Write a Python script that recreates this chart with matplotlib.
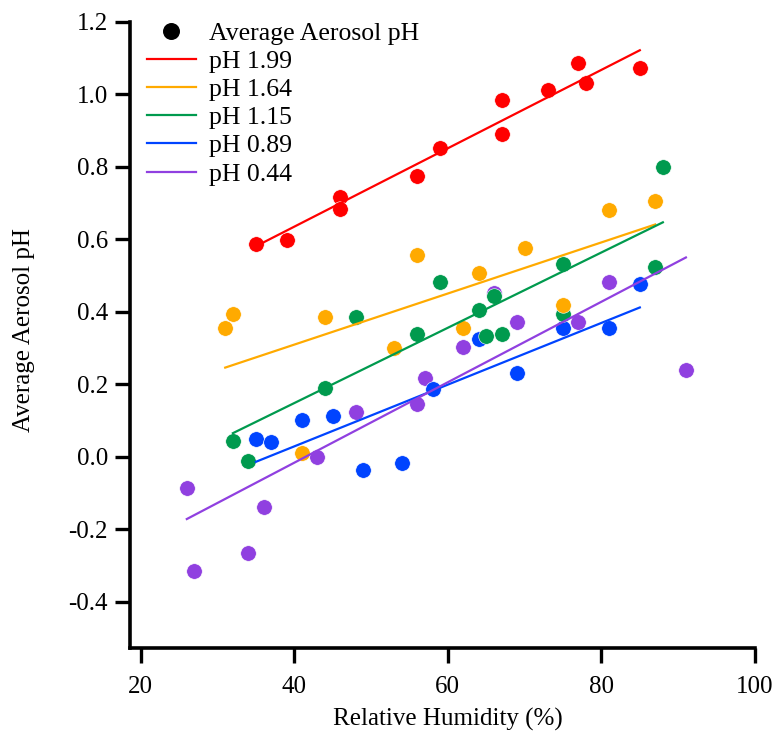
import matplotlib
matplotlib.use("Agg")
import matplotlib.pyplot as plt
from matplotlib.lines import Line2D
import numpy as np

plt.rcParams['font.family'] = ['Liberation Serif', 'DejaVu Serif']
plt.rcParams['font.size'] = 18

# data
labels = ["pH 1.99", "pH 1.64", "pH 1.15", "pH 0.89", "pH 0.44"]
colors = ["#ff0000", "#ffaa00", "#009a4e", "#0044ff", "#9040e0"]

rh_199 = [35, 39, 46, 46, 56, 59, 67, 67, 73, 77, 78, 85]
ph_199 = [0.586, 0.598, 0.718, 0.684, 0.776, 0.852, 0.984, 0.890, 1.011, 1.086, 1.031, 1.073]

rh_164 = [31, 32, 41, 44, 53, 56, 62, 64, 70, 75, 81, 87]
ph_164 = [0.354, 0.394, 0.009, 0.387, 0.299, 0.557, 0.354, 0.506, 0.577, 0.418, 0.680, 0.706]

rh_115 = [32, 34, 44, 48, 56, 59, 64, 65, 66, 67, 75, 75, 87, 88]
ph_115 = [0.043, -0.013, 0.191, 0.386, 0.339, 0.481, 0.406, 0.334, 0.443, 0.338, 0.532, 0.394, 0.525, 0.801]

rh_089 = [35, 37, 41, 45, 49, 54, 58, 64, 69, 75, 81, 85]
ph_089 = [0.049, 0.041, 0.100, 0.113, -0.036, -0.018, 0.187, 0.326, 0.231, 0.354, 0.354, 0.477]

rh_044 = [26, 27, 34, 36, 43, 48, 56, 57, 62, 66, 69, 77, 81, 91]
ph_044 = [-0.085, -0.316, -0.265, -0.138, -0.002, 0.123, 0.145, 0.217, 0.304, 0.451, 0.372, 0.371, 0.482, 0.239]

# fitted line values at the lowest and highest RH of each series
fit_start = [0.581, 0.246, 0.065, -0.014, -0.172]
fit_end = [1.122, 0.641, 0.647, 0.412, 0.550]

rh_all = [rh_199, rh_164, rh_115, rh_089, rh_044]
ph_all = [ph_199, ph_164, ph_115, ph_089, ph_044]

fig = plt.figure(figsize=(7.76, 7.33), dpi=100)
ax = fig.add_axes([130 / 776, 1 - 648 / 733, 625 / 776, 626 / 733])

# points: last series first so the upper ones sit on top
for i in reversed(range(5)):
    ax.scatter(rh_all[i], ph_all[i], s=125, color=colors[i],
               edgecolors="white", linewidths=0.4, zorder=3, clip_on=False)

for i in range(5):
    xs = [min(rh_all[i]), max(rh_all[i])]
    ax.plot(xs, [fit_start[i], fit_end[i]], color=colors[i], lw=1.6, zorder=4)

ax.set_xlim(18.6, 100)
ax.set_ylim(-0.528, 1.2)
ax.set_xticks([20, 40, 60, 80, 100])
ax.set_yticks([-0.4, -0.2, 0.0, 0.2, 0.4, 0.6, 0.8, 1.0, 1.2])
ax.set_yticklabels(["-0.4", "-0.2", "0.0", "0.2", "0.4", "0.6", "0.8", "1.0", "1.2"])

for side in ["top", "right"]:
    ax.spines[side].set_visible(False)
for side in ["left", "bottom"]:
    ax.spines[side].set_linewidth(2.6)
ax.tick_params(axis="both", length=11, width=2.4, labelsize=18)
ax.tick_params(axis="x", pad=9)
ax.tick_params(axis="y", pad=5)

ax.set_xlabel("Relative Humidity (%)", fontsize=18)
ax.set_ylabel("Average Aerosol pH", fontsize=18)
ax.xaxis.set_label_coords(0.509, -0.095)
ax.yaxis.set_label_coords(-0.152, 0.508)

handles = [Line2D([], [], marker="o", ls="none", color="black", markersize=11.2,
                  label="Average Aerosol pH")]
for i in range(5):
    handles.append(Line2D([], [], color=colors[i], lw=1.6, label=labels[i]))
ax.legend(handles=handles, loc="upper left", bbox_to_anchor=(147 / 776, 1 - 22 / 733),
          bbox_transform=fig.transFigure, frameon=False, borderpad=0, borderaxespad=0,
          handlelength=1.9, handletextpad=0.5, labelspacing=0.2, fontsize=18.5)

fig.savefig("out.png", dpi=100)
